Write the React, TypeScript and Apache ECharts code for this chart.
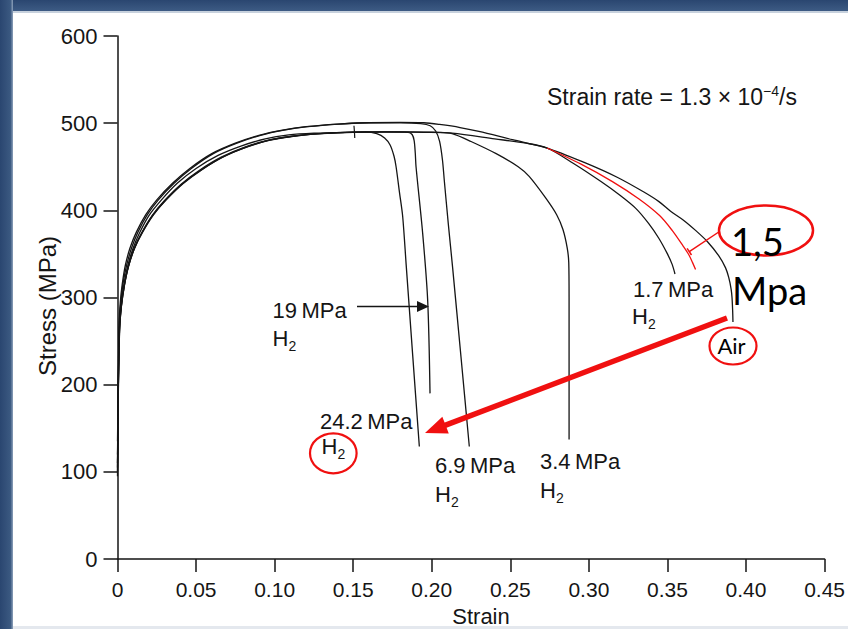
import React, { useEffect, useRef } from "react";
import * as echarts from "echarts";

type Pt = [number, number];

// Stress (MPa) vs strain
const airCurve: Pt[] = [
  [0, 120], [0.0005, 200], [0.001, 270], [0.0018, 295], [0.003, 315], [0.005, 337], [0.008, 357],
  [0.012, 375], [0.018, 395], [0.025, 412], [0.035, 431], [0.046, 448], [0.06, 465], [0.075, 477],
  [0.09, 486], [0.105, 492], [0.12, 496], [0.14, 499], [0.16, 500.5], [0.18, 501], [0.195, 500.5],
  [0.205, 498.5], [0.218, 495], [0.23, 490.5], [0.2514, 481], [0.2734, 471.5], [0.297, 455],
  [0.318, 438], [0.335, 421], [0.3446, 410], [0.352, 399], [0.36, 389], [0.3679, 377], [0.3755, 364],
  [0.3826, 348], [0.387, 334], [0.389, 323], [0.3905, 310], [0.3911, 300], [0.3915, 285], [0.3917, 272],
];

const h2_1_7: Pt[] = [
  [0, 110], [0.0005, 195], [0.0013, 268], [0.0023, 292], [0.004, 314], [0.0065, 336], [0.0098, 356],
  [0.014, 374], [0.02, 394], [0.028, 412], [0.038, 431], [0.05, 448], [0.064, 463], [0.079, 474],
  [0.094, 482], [0.109, 486.5], [0.125, 488.5], [0.145, 489.5], [0.17, 490], [0.195, 489.5],
  [0.213, 488.5], [0.24, 482], [0.26, 477], [0.2734, 471.5], [0.29, 454], [0.3077, 433], [0.32, 417],
  [0.33, 402], [0.338, 385], [0.3445, 368], [0.35, 350], [0.353, 338], [0.3548, 327],
];

const h2_1_5_red: Pt[] = [
  [0.2734, 471.5], [0.295, 453], [0.315, 433], [0.3319, 413], [0.345, 394], [0.353, 377], [0.36, 359],
  [0.3636, 349], [0.366, 340], [0.3679, 332],
];

const h2_3_4: Pt[] = [
  [0, 100], [0.0006, 200], [0.0014, 265], [0.0025, 290], [0.0045, 315], [0.007, 336], [0.011, 357],
  [0.016, 375], [0.023, 395], [0.031, 412], [0.042, 431], [0.054, 447], [0.068, 462], [0.083, 473],
  [0.098, 481], [0.113, 485.5], [0.13, 488], [0.15, 489.5], [0.18, 490], [0.205, 489.5], [0.213, 488],
  [0.225, 479], [0.241, 465], [0.255, 450], [0.262, 439], [0.2726, 414], [0.2795, 395], [0.2835, 378],
  [0.2862, 357], [0.2872, 340], [0.2874, 300], [0.2874, 137],
];

const h2_6_9: Pt[] = [
  [0, 135], [0.0005, 205], [0.0012, 272], [0.0022, 296], [0.0035, 316], [0.0058, 337], [0.009, 357],
  [0.013, 375], [0.019, 395], [0.026, 412], [0.036, 431], [0.047, 448], [0.061, 465], [0.076, 477],
  [0.091, 486], [0.106, 492], [0.121, 496], [0.141, 499], [0.161, 500.5], [0.18, 500.5], [0.193, 499.5],
  [0.199, 497], [0.2025, 491], [0.205, 479], [0.2068, 458], [0.208, 434], [0.2105, 385], [0.2133, 334],
  [0.2186, 232], [0.2239, 129],
];

const h2_19: Pt[] = [
  [0, 105], [0.0005, 195], [0.0013, 265], [0.0024, 290], [0.0044, 314], [0.0069, 335], [0.0107, 356],
  [0.0155, 374], [0.0223, 394], [0.0302, 411], [0.041, 430], [0.053, 446], [0.067, 461], [0.082, 472.5],
  [0.097, 480.5], [0.112, 485], [0.129, 488], [0.146, 489.5], [0.17, 490], [0.185, 489.5], [0.1875, 487],
  [0.1888, 480], [0.1895, 466], [0.19, 450], [0.1942, 374], [0.1974, 297], [0.1989, 190],
];

const h2_24_2: Pt[] = [
  [0, 95], [0.0005, 190], [0.0013, 262], [0.0024, 289], [0.0043, 314], [0.0068, 335], [0.0105, 356],
  [0.0153, 374], [0.022, 394], [0.0298, 411], [0.0405, 430], [0.0522, 446], [0.066, 461], [0.081, 472.5],
  [0.096, 480.5], [0.111, 485], [0.128, 488], [0.145, 489.5], [0.158, 490], [0.165, 488], [0.17, 483],
  [0.1735, 475], [0.176, 462], [0.1773, 450], [0.1795, 420], [0.1815, 393], [0.1837, 338], [0.1879, 233],
  [0.1921, 129],
];

const smallMark: Pt[] = [[0.1505, 497], [0.1508, 490], [0.151, 483]];

const X_MIN = 0;
const X_MAX = 0.45;
const X_STEP = 0.05;
const Y_MIN = 0;
const Y_MAX = 600;
const Y_STEP = 100;

const LABEL_FONT = '"Liberation Sans", Arial, sans-serif';
const PPT_FONT = 'Lato, "Open Sans", sans-serif';
const RED = "#f01010";
const INK = "#151515";

function txt(text: string, x: number, y: number, size: number, extra: any = {}) {
  return {
    type: "text",
    x,
    y,
    z: 20,
    silent: true,
    style: {
      text,
      font: `${size}px ${LABEL_FONT}`,
      fill: INK,
      align: "left",
      verticalAlign: "middle",
      ...extra,
    },
  };
}

function h2(x: number, y: number) {
  return [txt("H", x, y, 22), txt("2", x + 16, y + 7.5, 14)];
}

export default function App() {
  const ref = useRef<HTMLDivElement>(null);

  useEffect(() => {
    if (!ref.current) return;
    const chart = echarts.init(ref.current, null, { renderer: "svg" });

    const curve = (name: string, data: Pt[], color: string, width = 1.3, z = 3) => ({
      type: "line",
      name,
      data,
      symbol: "none",
      showSymbol: false,
      smooth: 0.3,
      silent: true,
      z,
      lineStyle: { color, width },
    });

    // red arrow geometry (annotation)
    const tail: Pt = [727, 318];
    const tip: Pt = [425, 433];
    const dx = tip[0] - tail[0];
    const dy = tip[1] - tail[1];
    const len = Math.hypot(dx, dy);
    const ux = dx / len;
    const uy = dy / len;
    const headLen = 22;
    const headHalf = 9;
    const bx = tip[0] - headLen * ux;
    const by = tip[1] - headLen * uy;
    const nx = -uy;
    const ny = ux;

    const option: any = {
      animation: false,
      backgroundColor: "#ffffff",
      grid: { left: 117.5, right: 22, top: 36, bottom: 70, containLabel: false },
      xAxis: {
        type: "value",
        min: X_MIN,
        max: X_MAX,
        interval: X_STEP,
        axisLine: { show: true, onZero: false, lineStyle: { color: INK, width: 1.5 } },
        axisTick: { show: true, inside: false, length: 13, lineStyle: { color: INK, width: 1.5 } },
        splitLine: { show: false },
        axisLabel: {
          margin: 20,
          color: INK,
          fontSize: 21,
          fontFamily: LABEL_FONT,
          formatter: (v: number) => (v === 0 ? "0" : v.toFixed(2)),
        },
      },
      yAxis: {
        type: "value",
        min: Y_MIN,
        max: Y_MAX,
        interval: Y_STEP,
        axisLine: { show: true, onZero: false, lineStyle: { color: INK, width: 1.5 } },
        axisTick: { show: true, inside: false, length: 14, lineStyle: { color: INK, width: 1.5 } },
        splitLine: { show: false },
        axisLabel: { margin: 20, color: INK, fontSize: 22, fontFamily: LABEL_FONT },
      },
      series: [
        curve("Air", airCurve, INK),
        curve("1.7 MPa H2", h2_1_7, INK),
        curve("3.4 MPa H2", h2_3_4, INK),
        curve("6.9 MPa H2", h2_6_9, INK),
        curve("19 MPa H2", h2_19, INK),
        curve("24.2 MPa H2", h2_24_2, INK),
        curve("mark", smallMark, INK, 1.2),
        curve("1.5 MPa", h2_1_5_red, RED, 1.3, 5),
      ],
      graphic: [
        // slide frame
        {
          type: "rect",
          z: 0,
          silent: true,
          shape: { x: 0, y: 0, width: 848, height: 11 },
          style: {
            fill: new echarts.graphic.LinearGradient(0, 0, 0, 1, [
              { offset: 0, color: "#2a4670" },
              { offset: 1, color: "#3d5b84" },
            ]),
          },
        },
        {
          type: "rect",
          z: 0,
          silent: true,
          shape: { x: 0, y: 0, width: 13, height: 629 },
          style: {
            fill: new echarts.graphic.LinearGradient(0, 0, 1, 0, [
              { offset: 0, color: "#2a4670" },
              { offset: 0.8, color: "#3b5981" },
              { offset: 1, color: "#8ea2bb" },
            ]),
          },
        },
        {
          type: "rect",
          z: 0,
          silent: true,
          shape: { x: 13, y: 11, width: 835, height: 2 },
          style: { fill: "#c7d1dd" },
        },
        {
          type: "rect",
          z: 0,
          silent: true,
          shape: { x: 13, y: 626, width: 835, height: 3 },
          style: { fill: "#e4e8ee" },
        },
        // axis titles
        txt("Strain", 481, 616.5, 22, { align: "center" }),
        {
          type: "text",
          x: 47,
          y: 306,
          rotation: Math.PI / 2,
          z: 20,
          silent: true,
          style: {
            text: "Stress (MPa)",
            font: `24px ${LABEL_FONT}`,
            fill: INK,
            align: "center",
            verticalAlign: "middle",
          },
        },
        // strain-rate note
        {
          type: "text",
          x: 547,
          y: 96.5,
          z: 20,
          silent: true,
          style: {
            text: "Strain rate = 1.3 × 10{sup|−4}/s",
            font: `23px ${LABEL_FONT}`,
            fill: INK,
            align: "left",
            verticalAlign: "middle",
            lineHeight: 25,
            rich: {
              sup: { fontSize: 14, fontFamily: LABEL_FONT, lineHeight: 14, verticalAlign: "top", fill: INK },
            },
          },
        },
        // curve labels
        txt("19\u2009MPa", 272.5, 310, 22),
        ...h2(272.5, 338),
        txt("24.2\u2009MPa", 320, 421.5, 22),
        ...h2(321.5, 446),
        txt("6.9\u2009MPa", 435, 465, 22),
        ...h2(435, 494.5),
        txt("3.4\u2009MPa", 540, 461, 22),
        ...h2(540, 490.5),
        txt("1.7\u2009MPa", 633, 289, 22),
        ...h2(632, 316.5),
        // black arrow for 19 MPa
        {
          type: "line",
          z: 20,
          silent: true,
          shape: { x1: 357, y1: 306.5, x2: 419, y2: 306.5 },
          style: { stroke: INK, lineWidth: 1.5 },
        },
        {
          type: "polygon",
          z: 20,
          silent: true,
          shape: { points: [[429, 306.5], [417, 301], [417, 312]] },
          style: { fill: INK },
        },
        // red annotations
        {
          type: "ellipse",
          z: 20,
          silent: true,
          shape: { cx: 766, cy: 230.5, rx: 47, ry: 25 },
          style: { fill: "none", stroke: RED, lineWidth: 2.5 },
        },
        txt("1,5", 731, 240.5, 38, { font: `38px ${PPT_FONT}`, fill: "#000" }),
        txt("Mpa", 732, 289.5, 38, { font: `38px ${PPT_FONT}`, fill: "#000" }),
        {
          type: "line",
          z: 20,
          silent: true,
          shape: { x1: 719.5, y1: 231.5, x2: 689.3, y2: 251.7 },
          style: { stroke: RED, lineWidth: 1.5 },
        },
        {
          type: "line",
          z: 20,
          silent: true,
          shape: { x1: 687.1, y1: 248.4, x2: 691.5, y2: 255.0 },
          style: { stroke: RED, lineWidth: 1.5 },
        },
        {
          type: "ellipse",
          z: 20,
          silent: true,
          shape: { cx: 733, cy: 346, rx: 23.5, ry: 18.5 },
          style: { fill: "none", stroke: RED, lineWidth: 2.2 },
        },
        txt("Air", 731.5, 345, 22, { font: `22px ${PPT_FONT}`, fill: "#000", align: "center" }),
        {
          type: "ellipse",
          z: 20,
          silent: true,
          shape: { cx: 333.3, cy: 453.3, rx: 23.3, ry: 20 },
          style: { fill: "none", stroke: RED, lineWidth: 2.2 },
        },
        {
          type: "line",
          z: 21,
          silent: true,
          shape: { x1: tail[0], y1: tail[1], x2: bx + 2 * ux, y2: by + 2 * uy },
          style: { stroke: RED, lineWidth: 5.5 },
        },
        {
          type: "polygon",
          z: 21,
          silent: true,
          shape: {
            points: [
              [tip[0], tip[1]],
              [bx + headHalf * nx, by + headHalf * ny],
              [bx - headHalf * nx, by - headHalf * ny],
            ],
          },
          style: { fill: RED },
        },
      ],
    };

    chart.setOption(option);
    return () => chart.dispose();
  }, []);

  return (
    <div
      ref={ref}
      style={{ position: "fixed", left: 0, top: 0, width: 848, height: 629, background: "#fff" }}
    />
  );
}
